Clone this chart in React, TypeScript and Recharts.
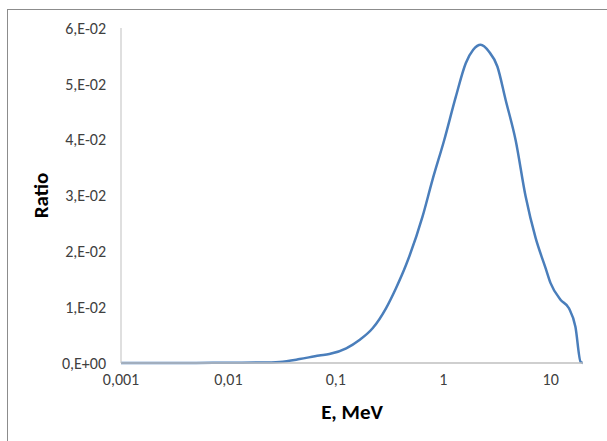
import { LineChart, Line, XAxis, YAxis, Label } from 'recharts'

// energy (MeV) and ratio values
const energy = [
  0.001, 0.002, 0.005, 0.01, 0.02, 0.03, 0.046, 0.07, 0.087, 0.125, 0.166, 0.22, 0.293,
  0.363, 0.45, 0.641, 0.794, 1.02, 1.31, 1.62, 1.9, 2.23, 2.66, 3.19, 3.81, 4.72, 5.85,
  7.24, 8.97, 9.98, 12.4, 14.8, 17.0, 19.0, 20,
]
const ratio = [
  0, 0.00001, 0.00002, 0.00004, 0.00008, 0.0002, 0.0007, 0.00135, 0.0016, 0.00263, 0.00412,
  0.00622, 0.0098, 0.0134, 0.01755, 0.0262, 0.0328, 0.0399, 0.0477, 0.0537, 0.0561, 0.057,
  0.0558, 0.0531, 0.0471, 0.0399, 0.0298, 0.0224, 0.017, 0.0143, 0.0113, 0.0098, 0.0065,
  0.0002, 0,
]

const xTicks = [0.001, 0.01, 0.1, 1, 10]
const xTickLabels = ['0,001', '0,01', '0,1', '1', '10']
const yTicks = [0, 0.01, 0.02, 0.03, 0.04, 0.05, 0.06]
const yTickLabels = ['0,E+00', '1,E-02', '2,E-02', '3,E-02', '4,E-02', '5,E-02', '6,E-02']

const data = energy.map((e, i) => ({ e, r: ratio[i] }))

const font = 'Calibri, Carlito, "Open Sans", sans-serif'
const tickStyle = { fill: '#404040', fontSize: 16, fontFamily: font }
const titleStyle = { fill: '#000', fontSize: 21, fontWeight: 700, fontFamily: font }

export default function App() {
  return (
    <div
      style={{
        position: 'absolute',
        left: 0,
        top: 0,
        width: 607,
        height: 441,
        overflow: 'hidden',
        background: '#fff',
      }}
    >
      <div
        style={{
          position: 'absolute',
          left: 7,
          top: 9,
          width: 640,
          height: 480,
          border: '1px solid #8c8c8c',
        }}
      />
      <div style={{ position: 'absolute', left: 0, top: 0 }}>
        <LineChart width={607} height={441} data={data} margin={{ top: 28, right: 24, bottom: 0, left: 0 }}>
          <XAxis
            dataKey="e"
            type="number"
            scale="log"
            domain={[0.001, 20]}
            ticks={xTicks}
            allowDataOverflow
            tickFormatter={(v) => xTickLabels[xTicks.indexOf(v)] ?? String(v)}
            tick={tickStyle}
            tickLine={false}
            tickSize={6}
            tickMargin={5}
            height={78}
            axisLine={{ stroke: '#bfbfbf', strokeWidth: 1.5 }}
          >
            <Label value="E, MeV" position="insideBottom" offset={22} style={titleStyle} />
          </XAxis>
          <YAxis
            type="number"
            domain={[0, 0.06]}
            ticks={yTicks}
            width={121}
            tickFormatter={(v) => yTickLabels[yTicks.indexOf(v)] ?? String(v)}
            tick={tickStyle}
            tickLine={false}
            tickSize={6}
            tickMargin={9}
            axisLine={{ stroke: '#bfbfbf', strokeWidth: 1 }}
          >
            <Label value="Ratio" angle={-90} position="center" dx={-20} style={titleStyle} />
          </YAxis>
          <Line
            dataKey="r"
            type="monotone"
            stroke="#4a7ebb"
            strokeWidth={2.5}
            dot={false}
            isAnimationActive={false}
          />
        </LineChart>
      </div>
    </div>
  )
}
